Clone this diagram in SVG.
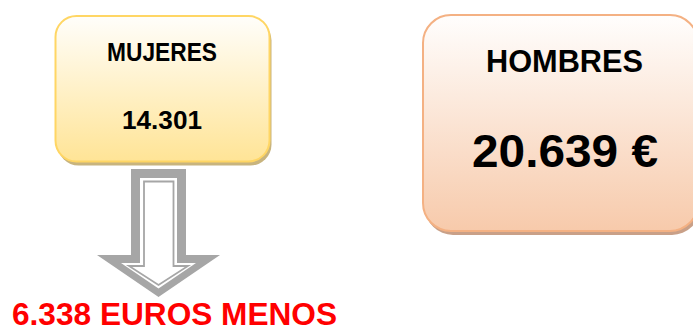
<svg xmlns="http://www.w3.org/2000/svg" width="693" height="329" viewBox="0 0 693 329">
<defs>
<linearGradient id="gY" x1="0" y1="0" x2="0" y2="1">
<stop offset="0" stop-color="#fffefb"/>
<stop offset="1" stop-color="#ffe496"/>
</linearGradient>
<linearGradient id="gP" x1="0" y1="0" x2="0" y2="1">
<stop offset="0" stop-color="#fffefd"/>
<stop offset="1" stop-color="#f7caab"/>
</linearGradient>
<style>
.t{font-family:"Liberation Sans",Arial,sans-serif;font-weight:bold;text-anchor:middle;fill:#000}
.red{fill:#ff0000}
</style>
</defs>
<rect width="693" height="329" fill="#ffffff"/>
<g id="mujeres">
<rect x="57.5" y="19.5" width="214" height="146" rx="21" fill="#c8b47e"/>
<rect x="55.5" y="16" width="214" height="145.5" rx="21" fill="url(#gY)" stroke="#ffd664" stroke-width="2"/>
<text class="t" x="162" y="61" font-size="25" textLength="110" lengthAdjust="spacingAndGlyphs">MUJERES</text>
<text class="t" x="162" y="129" font-size="25" textLength="80" lengthAdjust="spacingAndGlyphs">14.301</text>
</g>
<g id="hombres">
<rect x="425" y="19" width="275" height="216" rx="28" fill="#c9a088"/>
<rect x="423" y="15" width="275" height="216" rx="28" fill="url(#gP)" stroke="#f4b183" stroke-width="2"/>
<text class="t" x="564.5" y="72" font-size="32" textLength="157" lengthAdjust="spacingAndGlyphs">HOMBRES</text>
<text class="t" x="565" y="167" font-size="47" textLength="186" lengthAdjust="spacingAndGlyphs">20.639 €</text>
</g>
<g id="connectors">
<polygon points="131,169 186,169 186,255 220,255 158.5,297 97,255 131,255" fill="#a6a6a6"/>
<polygon points="140,178 177,178 177,263 196,263 158.5,288.5 121,263 140,263" fill="#ffffff"/>
<polygon points="144,181.5 173.5,181.5 173.5,266 188,266 158.5,285 129,266 144,266" fill="#ffffff" stroke="#a6a6a6" stroke-width="1.8"/>
</g>
<g id="diferencia">
<text class="t red" x="174.5" y="325" font-size="31" textLength="325" lengthAdjust="spacingAndGlyphs">6.338 EUROS MENOS</text>
</g>
</svg>
